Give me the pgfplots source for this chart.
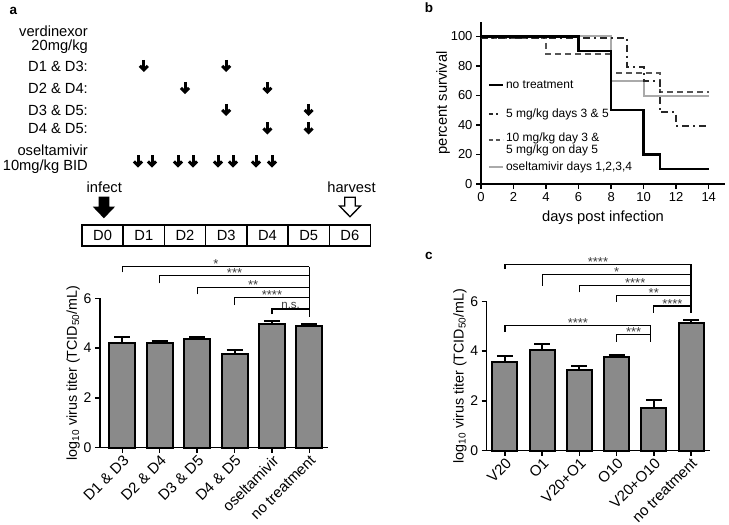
\documentclass[border=0pt]{standalone}
\usepackage{fontspec}
\setmainfont{Liberation Sans}
\usepackage{pgfplots}
\pgfplotsset{compat=1.18}
\usetikzlibrary{arrows.meta}

\definecolor{barGray}{RGB}{138,138,138}
\definecolor{sigGray}{RGB}{60,60,60}
\definecolor{oselGray}{RGB}{170,170,170}
\definecolor{dashGray}{RGB}{85,85,85}
\definecolor{dotGray}{RGB}{40,40,40}

\newcommand\fs[1]{\fontsize{#1}{#1}\selectfont}

\pgfplotsset{
  barax/.style={
    anchor=south west, scale only axis,
    ymin=0, ymax=6, ytick={0,2,4,6},
    xtick={0,...,5},
    axis x line*=bottom, axis y line*=left,
    axis line style={line width=1.5pt, black},
    tick align=outside, major tick length=5pt,
    tick style={line width=1.5pt, black},
    y tick label style={font=\fs{14}},
    x tick label style={rotate=45, anchor=north east, font=\fs{15}, inner sep=1pt},
    ylabel={log\textsubscript{10} virus titer (TCID\textsubscript{50}/mL)},
    label style={font=\fs{14.3}}, ylabel shift=-3pt,
    /pgf/number format/assume math mode=true,
    clip=false, ybar,
  },
  bars/.style={fill=barGray, draw=black, line width=2pt,
    error bars/.cd, y dir=plus, y explicit,
    error bar style={line width=2pt, black},
    error mark options={rotate=90, line width=2pt, mark size=8pt, black}},
}
\tikzset{
  br/.style={line width=1.2pt, black},
  st/.style={font=\fs{13}, text=sigGray, anchor=base, yshift=-2pt, inner sep=0pt},
}

\newcommand\darr[2]{%
  \draw[line width=3pt, line cap=butt] (#1,#2-6.2) -- (#1,#2+3.5);
  \draw[line width=3pt, line join=miter, line cap=butt] (#1-4,#2-0.1) -- (#1,#2+3.9) -- (#1+4,#2-0.1);}

\begin{document}
\begin{tikzpicture}
\useasboundingbox (0,0) rectangle (729pt,-525pt);
\begin{scope}[x=1pt,y=-1pt]
  % panel letters
  \node[font=\fs{13.5}\bfseries, anchor=base] at (13.5,14) {a};
  \node[font=\fs{13.5}\bfseries, anchor=base] at (429,12) {b};
  \node[font=\fs{13.5}\bfseries, anchor=base] at (429,259) {c};
  % schematic labels
  \begin{scope}[every node/.style={font=\fs{14.7}, anchor=base east, inner sep=0pt}]
    \node at (88,36) {verdinexor};
    \node at (88,50) {20mg/kg};
    \node at (88,71) {D1 \& D3:};
    \node at (88,93.3) {D2 \& D4:};
    \node at (88,115) {D3 \& D5:};
    \node at (88,133.3) {D4 \& D5:};
    \node at (88,155) {oseltamivir};
    \node at (88,170) {10mg/kg BID};
  \end{scope}
  \darr{143.8}{66} \darr{226.2}{66}
  \darr{185}{88} \darr{267.4}{88}
  \darr{226.2}{110} \darr{308.6}{110}
  \darr{267.4}{128.5} \darr{308.6}{128.5}
  \darr{138}{161.5}\darr{152}{161.5}
  \darr{178}{161.5}\darr{193}{161.5}
  \darr{218}{161.5}\darr{233}{161.5}
  \darr{256}{161.5}\darr{272}{161.5}
  % timeline
  \draw[line width=1.5pt] (82,225) rectangle (370.5,246);
  \foreach \k in {1,...,6} \draw[line width=1.5pt] (82+41.21*\k,225) -- (82+41.21*\k,246);
  \foreach \k in {0,...,6} \node[font=\fs{14.7}, inner sep=0pt] at (82+41.21*\k+20.6,235.5) {D\k};
  \node[font=\fs{14.7}, anchor=base, inner sep=0pt] at (104.3,192.7) {infect};
  \node[font=\fs{14.7}, anchor=base, inner sep=0pt] at (351.5,192.7) {harvest};
  \fill (98.5,196.7) -- (109.3,196.7) -- (109.3,206.7) -- (115,206.7) -- (103.9,218.3) -- (92.8,206.7) -- (98.5,206.7) -- cycle;
  \draw[line width=1.3pt, fill=white, line join=miter] (344.8,197.3) -- (355.2,197.3) -- (355.2,206) -- (360.5,206) -- (350,216.7) -- (339.5,206) -- (344.8,206) -- cycle;
\end{scope}

% ---------- panel a bars ----------
\begin{axis}[barax, at={(100pt,-447.7pt)}, width=227.7pt, height=149.4pt,
  xmin=-0.596, xmax=5.49, bar width=26pt,
  xticklabels={D1 \& D3,D2 \& D4,D3 \& D5,D4 \& D5,oseltamivir,no treatment}]
\addplot[bars] table[x=x,y=y,y error=e]{
x y e
0 4.19 0.27
1 4.19 0.09
2 4.37 0.09
3 3.76 0.16
4 4.95 0.15
5 4.89 0.09
};
\draw[br] (axis cs:0,7.04) -- (axis cs:0,7.27) -- (axis cs:5,7.27);
\draw[br] (axis cs:1,6.60) -- (axis cs:1,6.90) -- (axis cs:5,6.90);
\draw[br] (axis cs:2,6.16) -- (axis cs:2,6.44) -- (axis cs:5,6.44);
\draw[br] (axis cs:3,5.73) -- (axis cs:3,6.02) -- (axis cs:5,6.02);
\draw[br] (axis cs:4,5.36) -- (axis cs:4,5.57) -- (axis cs:5,5.57);
\draw[br] (axis cs:5,7.27) -- (axis cs:5,5.26);
\node[st] at (axis cs:2.5,7.27) {*};
\node[st] at (axis cs:3,6.90) {***};
\node[st] at (axis cs:3.5,6.44) {**};
\node[st] at (axis cs:4,6.02) {****};
\node[font=\fs{11.5}, text=sigGray, anchor=base, inner sep=0pt, yshift=1pt] at (axis cs:4.5,5.57) {n.s.};
\end{axis}

% ---------- panel c bars ----------
\begin{axis}[barax, at={(486.7pt,-450.7pt)}, width=223.3pt, height=149.4pt,
  xmin=-0.49, xmax=5.51, bar width=25pt,
  xticklabels={V20,O1,V20+O1,O10,V20+O10,no treatment}]
\addplot[bars] table[x=x,y=y,y error=e]{
x y e
0 3.55 0.27
1 4.04 0.23
2 3.24 0.17
3 3.76 0.08
4 1.71 0.34
5 5.13 0.13
};
\draw[br] (axis cs:0,7.29) -- (axis cs:0,7.49) -- (axis cs:5,7.49);
\draw[br] (axis cs:1,6.63) -- (axis cs:1,7.08) -- (axis cs:5,7.08);
\draw[br] (axis cs:2,6.36) -- (axis cs:2,6.65) -- (axis cs:5,6.65);
\draw[br] (axis cs:3,5.98) -- (axis cs:3,6.24) -- (axis cs:5,6.24);
\draw[br] (axis cs:4,5.54) -- (axis cs:4,5.81) -- (axis cs:5,5.81);
\draw[br] (axis cs:5,7.49) -- (axis cs:5,5.52);
\draw[br] (axis cs:0,4.76) -- (axis cs:0,5.02) -- (axis cs:3.92,5.02);
\draw[br] (axis cs:3,4.38) -- (axis cs:3,4.67) -- (axis cs:3.92,4.67);
\draw[br] (axis cs:3.92,5.02) -- (axis cs:3.92,4.38);
\node[st] at (axis cs:2.5,7.49) {****};
\node[st] at (axis cs:3,7.08) {*};
\node[st] at (axis cs:3.5,6.65) {****};
\node[st] at (axis cs:4,6.24) {**};
\node[st] at (axis cs:4.5,5.81) {****};
\node[st] at (axis cs:1.96,5.02) {****};
\node[st] at (axis cs:3.46,4.67) {***};
\end{axis}

% ---------- panel b survival ----------
\begin{axis}[at={(481pt,-184pt)}, anchor=south west, scale only axis,
  width=244pt, height=162.3pt,
  xmin=0, xmax=15, ymin=0, ymax=110,
  xtick={0,2,...,14}, ytick={0,20,...,100},
  axis x line*=bottom, axis y line*=left,
  axis line style={line width=1.5pt, black},
  tick align=outside, major tick length=5pt,
  tick style={line width=1.5pt, black},
  tick label style={font=\fs{13}},
  label style={font=\fs{14.7}},
  xlabel={days post infection}, ylabel={percent survival},
  ylabel shift=-6pt, xlabel shift=2pt,
  /pgf/number format/assume math mode=true,
  const plot, clip=false,
  legend style={at={(axis cs:0.39,71)}, anchor=north west, draw=none, fill=none,
    font=\fontsize{12}{12.3}\selectfont, row sep=0pt, inner sep=0pt,
    nodes={inner sep=0pt, text depth=},
    cells={anchor=base west},
    /tikz/every odd column/.append style={column sep=2pt}},
  legend image code/.code={\draw[#1] (0pt,3.3pt) -- (14pt,3.3pt);},
]
\addplot[forget plot, oselGray, line width=2pt] coordinates {(0,100) (8,69.5) (10,59.5) (14,59.5)};
\addplot[forget plot, dashGray, line width=2pt, dash pattern=on 6pt off 4pt] coordinates {(0,99) (4,88) (8,75.5) (11,62.5) (14,62.5)};
\addplot[forget plot, dotGray, line width=2pt, dash pattern=on 7pt off 4pt on 2pt off 4pt] coordinates {(0,99) (9,79.5) (10,70) (11,48.5) (12,39.5) (14,39.5)};
\addplot[forget plot, black, line width=2.5pt] coordinates {(0,100) (6,90) (8,50) (10,20) (11,10) (14,10)};
\addlegendimage{black, line width=2.5pt}
\addlegendentry{\rule[-14pt]{0pt}{23pt}no treatment}
\addlegendimage{dotGray, line width=2pt, dash pattern=on 4pt off 3.5pt on 2pt off 5pt}
\addlegendentry{\rule[-4pt]{0pt}{19pt}5 mg/kg days 3 \& 5}
\addlegendimage{legend image code/.code={\draw[dashGray, line width=2pt, dash pattern=on 4pt off 3pt] (0pt,1pt) -- (14pt,1pt);}}
\addlegendentry{\begin{tabular}[t]{@{}l@{}}\rule{0pt}{19.7pt}10 mg/kg day 3 \&\\5 mg/kg on day 5\end{tabular}}
\addlegendimage{oselGray, line width=2pt}
\addlegendentry{\rule[-4pt]{0pt}{17pt}oseltamivir days 1,2,3,4}
\end{axis}
\end{tikzpicture}
\end{document}
